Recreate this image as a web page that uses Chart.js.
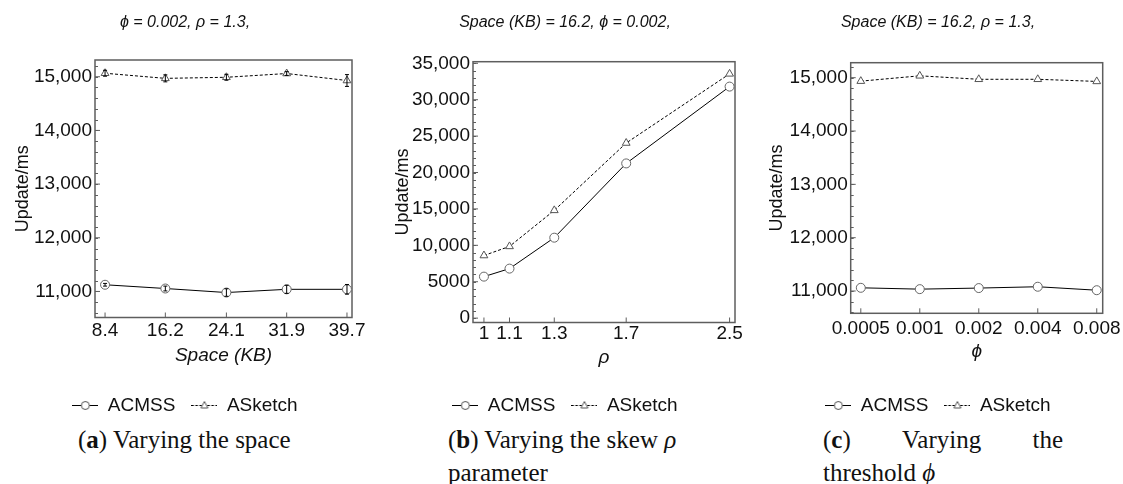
<!DOCTYPE html>
<html><head><meta charset="utf-8">
<script src="https://cdn.jsdelivr.net/npm/chart.js@4.4.1/dist/chart.umd.min.js"></script>
<style>
html,body{margin:0;padding:0;background:#fff;width:1123px;height:484px;overflow:hidden;position:relative;}
.panel{position:absolute;top:0;}
.cap{position:absolute;font-family:'Liberation Serif','Times New Roman',serif;font-size:25px;color:#111;white-space:nowrap;line-height:30px;}
</style></head><body>
<div class="panel" style="left:0px"><canvas id="cA" width="370" height="425"></canvas></div>
<div class="panel" style="left:380px"><canvas id="cB" width="370" height="425"></canvas></div>
<div class="panel" style="left:753px"><canvas id="cC" width="370" height="425"></canvas></div>
<div class="cap" style="left:78px;top:425px">(<b>a</b>) Varying the space</div>
<div class="cap" style="left:448px;top:425px">(<b>b</b>) Varying the skew <i>ρ</i></div>
<div class="cap" style="left:448px;top:458px">parameter</div>
<div class="cap" style="left:823px;top:425px;width:240px;display:flex;justify-content:space-between"><span>(<b>c</b>)</span><span>Varying</span><span>the</span></div>
<div class="cap" style="left:823px;top:458px">threshold <i>ϕ</i></div>
<script>
const FONT = "'Liberation Sans', Arial, sans-serif";
const seriesNames = ['ACMSS', 'ASketch'];

// Panel (a): varying the space
const spaceKB = [8.4, 16.2, 24.1, 31.9, 39.7];
const xTickLabelsA = ['8.4', '16.2', '24.1', '31.9', '39.7'];
const acmssA = [11125, 11055, 10980, 11040, 11040];
const acmssErrA = [25, 45, 70, 75, 90];
const asketchA = [15065, 14970, 14990, 15060, 14930];
const asketchErrA = [55, 65, 55, 35, 110];
const yTicksA = [11000, 12000, 13000, 14000, 15000];
const yTickLabelsA = ['11,000', '12,000', '13,000', '14,000', '15,000'];

// Panel (b): varying the skew rho
const rho = [1, 1.1, 1.3, 1.7, 2.5];
const xTickLabelsB = ['1', '1.1', '1.3', '1.7', '2.5'];
const acmssB = [5700, 6800, 11050, 21250, 31800];
const asketchB = [8600, 9850, 14800, 24050, 33550];
const yTicksB = [0, 5000, 10000, 15000, 20000, 25000, 30000, 35000];
const yTickLabelsB = ['0', '5000', '10,000', '15,000', '20,000', '25,000', '30,000', '35,000'];

// Panel (c): varying the threshold phi
const phi = [0.0005, 0.001, 0.002, 0.004, 0.008];
const xTickLabelsC = ['0.0005', '0.001', '0.002', '0.004', '0.008'];
const acmssC = [11060, 11035, 11055, 11080, 11015];
const asketchC = [14935, 15035, 14970, 14970, 14930];
const yTicksC = [11000, 12000, 13000, 14000, 15000];
const yTickLabelsC = ['11,000', '12,000', '13,000', '14,000', '15,000'];

function legendIcon(kind) {
  const c = document.createElement('canvas');
  c.width = 26; c.height = 13;
  const g = c.getContext('2d');
  g.strokeStyle = '#000'; g.lineWidth = 1;
  if (kind === 'tri') g.setLineDash([2.5, 1.5]);
  g.beginPath(); g.moveTo(0, 6.5); g.lineTo(26, 6.5); g.stroke();
  g.setLineDash([]);
  g.fillStyle = '#fff'; g.strokeStyle = '#555';
  g.beginPath();
  if (kind === 'circle') { g.arc(13, 6.5, 4, 0, Math.PI * 2); }
  else { g.moveTo(13, 2.5); g.lineTo(16.5, 9); g.lineTo(9.5, 9); g.closePath(); }
  g.fill(); g.stroke();
  return c;
}
const icons = [legendIcon('circle'), legendIcon('tri')];

const framePlugin = {
  id: 'frame',
  beforeDatasetsDraw(chart) {
    const { ctx, chartArea: a, scales: { x, y } } = chart;
    ctx.save();
    ctx.strokeStyle = '#5e5e5e'; ctx.lineWidth = 1.5;
    ctx.strokeRect(a.left, a.top, a.right - a.left, a.bottom - a.top);
    ctx.lineWidth = 1;
    ctx.beginPath();
    x.ticks.forEach(t => { const px = x.getPixelForValue(t.value); ctx.moveTo(px, a.bottom); ctx.lineTo(px, a.bottom - 5); });
    y.ticks.forEach(t => { const py = y.getPixelForValue(t.value); ctx.moveTo(a.left, py); ctx.lineTo(a.left + 5, py); });
    const step = (y.ticks[1].value - y.ticks[0].value) / 5;
    for (let v = Math.ceil(y.min / step) * step; v <= y.max; v += step) {
      const py = Math.round(y.getPixelForValue(v)) + 0.5;
      ctx.moveTo(a.left, py); ctx.lineTo(a.left + 3, py);
    }
    ctx.stroke();
    ctx.restore();
  }
};

const errorPlugin = {
  id: 'errbars',
  afterDatasetsDraw(chart) {
    const { ctx, scales: { y } } = chart;
    ctx.save();
    ctx.strokeStyle = '#000'; ctx.lineWidth = 1;
    chart.data.datasets.forEach((ds, i) => {
      if (!ds.errors) return;
      const meta = chart.getDatasetMeta(i);
      ds.data.forEach((p, j) => {
        const px = meta.data[j].x;
        const t = y.getPixelForValue(p.y + ds.errors[j]);
        const b = y.getPixelForValue(p.y - ds.errors[j]);
        ctx.beginPath();
        ctx.moveTo(px, t); ctx.lineTo(px, b);
        ctx.moveTo(px - 2, t); ctx.lineTo(px + 2, t);
        ctx.moveTo(px - 2, b); ctx.lineTo(px + 2, b);
        ctx.stroke();
      });
    });
    ctx.restore();
  }
};

function makeChart(id, cfg) {
  const tickFont = { family: FONT, size: 19 };
  return new Chart(document.getElementById(id), {
    type: 'line',
    data: {
      datasets: [
        { label: seriesNames[0], data: cfg.x.map((x, i) => ({ x, y: cfg.acmss[i] })), errors: cfg.acmssErr,
          borderColor: '#000', borderWidth: 1, pointStyle: 'circle', pointRadius: 4.5,
          pointBorderColor: '#666', pointBackgroundColor: '#fff', pointBorderWidth: 1, tension: 0, fill: false },
        { label: seriesNames[1], data: cfg.x.map((x, i) => ({ x, y: cfg.asketch[i] })), errors: cfg.asketchErr,
          borderColor: '#000', borderWidth: 1, borderDash: [3, 2], pointStyle: 'triangle', pointRadius: 4.5,
          pointBorderColor: '#555', pointBackgroundColor: '#fff', pointBorderWidth: 1, tension: 0, fill: false }
      ]
    },
    options: {
      responsive: false, animation: false, devicePixelRatio: 1,
      layout: { padding: 0 },
      plugins: {
        title: { display: true, text: cfg.title, color: '#111',
          font: { family: FONT, size: 16, style: 'italic', weight: 'normal' },
          padding: { top: 13, bottom: cfg.plotTop - 32.2 } },
        legend: { position: 'bottom',
          labels: { usePointStyle: true, pointStyleWidth: 26, padding: 16, color: '#111',
            font: { family: FONT, size: 19 },
            generateLabels: chart => chart.data.datasets.map((ds, i) => ({
              text: ds.label, pointStyle: icons[i], fillStyle: '#fff', strokeStyle: '#fff',
              lineWidth: 0, hidden: false, datasetIndex: i, fontColor: '#111' })) } },
        tooltip: { enabled: false }
      },
      scales: {
        x: { type: cfg.xType, min: cfg.xMin, max: cfg.xMax,
          afterBuildTicks: s => { s.ticks = cfg.x.map(v => ({ value: v })); },
          ticks: { callback: (v, i) => cfg.xLabels[i], font: tickFont, color: '#111', padding: cfg.xTickPad,
            maxRotation: 0, autoSkip: false },
          grid: { display: false, drawTicks: false }, border: { display: false },
          title: { display: true, text: cfg.xTitle, color: '#111',
            font: { family: FONT, size: 19, style: 'italic' }, padding: { top: 0, bottom: cfg.xTitlePad } },
          afterFit: s => { s.height = cfg.xHeight; s.paddingLeft = 0; s.paddingRight = 0; } },
        y: { type: 'linear', min: cfg.yMin, max: cfg.yMax,
          afterBuildTicks: s => { s.ticks = cfg.yTicks.map(v => ({ value: v })); },
          ticks: { callback: (v, i) => cfg.yLabels[i], font: tickFont, color: '#111', padding: 3 },
          grid: { display: false, drawTicks: false }, border: { display: false },
          title: { display: true, text: 'Update/ms', color: '#111',
            font: { family: FONT, size: 18 }, padding: { top: cfg.yTitlePad, bottom: 0 } },
          afterFit: s => { s.width = cfg.yW; s.paddingTop = 0; s.paddingBottom = 0; } },
        yRight: { axis: 'y', position: 'right', display: true,
          ticks: { display: false }, grid: { display: false, drawTicks: false }, border: { display: false },
          afterFit: s => { s.width = cfg.rW; } }
      }
    },
    plugins: [framePlugin, errorPlugin]
  });
}

makeChart('cA', {
  title: 'ϕ = 0.002, ρ = 1.3,', x: spaceKB, xLabels: xTickLabelsA, acmss: acmssA, asketch: asketchA,
  acmssErr: acmssErrA, asketchErr: asketchErrA,
  xType: 'linear', xMin: 7.1, xMax: 40.35, yMin: 10515, yMax: 15312, yTicks: yTicksA, yLabels: yTickLabelsA,
  xTitle: 'Space (KB)', plotTop: 60, xHeight: 62.5, xTickPad: 2, xTitlePad: 13, yW: 95, rW: 18, yTitlePad: 12
});
makeChart('cB', {
  title: 'Space (KB) = 16.2, ϕ = 0.002,', x: rho, xLabels: xTickLabelsB, acmss: acmssB, asketch: asketchB,
  xType: 'logarithmic', xMin: 0.96, xMax: 2.551, yMin: -600, yMax: 35220, yTicks: yTicksB, yLabels: yTickLabelsB,
  xTitle: 'ρ', plotTop: 61.7, xHeight: 57.5, xTickPad: 0, xTitlePad: 10.6, yW: 93, rW: 15, yTitlePad: 12
});
makeChart('cC', {
  title: 'Space (KB) = 16.2, ρ = 1.3,', x: phi, xLabels: xTickLabelsC, acmss: acmssC, asketch: asketchC,
  xType: 'logarithmic', xMin: 0.000444, xMax: 0.00858, yMin: 10582, yMax: 15281, yTicks: yTicksC, yLabels: yTickLabelsC,
  xTitle: 'ϕ', plotTop: 62.7, xHeight: 66.7, xTickPad: 4, xTitlePad: 16.6, yW: 97.7, rW: 20.3, yTitlePad: 13.2
});
</script>
</body></html>
